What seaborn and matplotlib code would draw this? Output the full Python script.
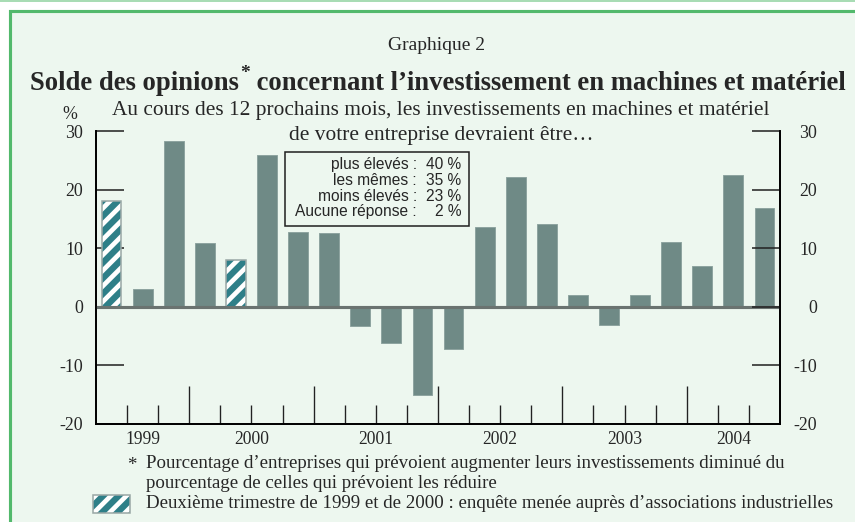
import numpy as np
import pandas as pd
import matplotlib.pyplot as plt
import matplotlib.transforms as mtransforms
from matplotlib.patches import Rectangle
from matplotlib.lines import Line2D
import seaborn as sns

# ==================== données ====================
trimestres = ["1999T2", "1999T3", "1999T4",
              "2000T1", "2000T2", "2000T3", "2000T4",
              "2001T1", "2001T2", "2001T3", "2001T4",
              "2002T1", "2002T2", "2002T3", "2002T4",
              "2003T1", "2003T2", "2003T3", "2003T4",
              "2004T1", "2004T2", "2004T3"]
soldes = [18.1, 3.0, 28.3,
          10.9, 8.0, 25.9, 12.7,
          12.6, -3.2, -6.2, -15.0,
          -7.2, 13.7, 22.2, 14.1,
          2.0, -3.1, 2.0, 11.0,
          6.9, 22.5, 16.9]
# deuxième trimestre 1999 et 2000 : enquête auprès d'associations industrielles
enquete_asso = ["1999T2", "2000T2"]

annees = ["1999", "2000", "2001", "2002", "2003", "2004"]
nb_trim = [3, 4, 4, 4, 4, 3]

reponses = ["plus élevés", "les mêmes", "moins élevés", "Aucune réponse"]
parts = [40, 35, 23, 2]

# ==================== style ====================
BG = "#edf7ef"
GREEN = "#52b96c"
BAR = "#6f8a86"
TEAL = "#2e7f88"
ZERO = "#6a7370"

sns.set_style("ticks")
plt.rcParams["font.family"] = ["Liberation Serif", "DejaVu Serif"]
plt.rcParams["axes.unicode_minus"] = False
plt.rcParams["hatch.linewidth"] = 2.4

W, H, DPI = 855, 522, 140
fx = lambda x: x / W
fy = lambda y: 1 - y / H

fig = plt.figure(figsize=(W / DPI, H / DPI), dpi=DPI, facecolor="white")

# cadre vert
fig.add_artist(Rectangle((fx(9.5), -0.2), 1.2, fy(11.5) + 0.2, transform=fig.transFigure,
                         facecolor=BG, edgecolor=GREEN, lw=1.6, zorder=-5))
fig.add_artist(Line2D([0, 1], [fy(0.6), fy(0.6)], transform=fig.transFigure,
                      color="#a6dcb2", lw=1.0, zorder=-5))

ax = fig.add_axes([fx(96), fy(424), fx(780) - fx(96), (424 - 131) / H])
ax.set_facecolor("none")

df = pd.DataFrame({"trimestre": trimestres, "solde": soldes})
sns.barplot(data=df, x="trimestre", y="solde", order=trimestres, color=BAR,
            saturation=1, width=0.64, errorbar=None, ax=ax, zorder=2)

for p in ax.patches:
    i = int(round(p.get_x() + p.get_width() / 2))
    if trimestres[i] in enquete_asso:
        p.set_facecolor(TEAL)
        p.set_edgecolor("white")
        p.set_linewidth(0)
        p.set_hatch("///")
        ax.add_patch(Rectangle((p.get_x(), p.get_y()), p.get_width(), p.get_height(),
                               fill=False, edgecolor="#9aa8a6", lw=0.8, zorder=2.5))
    else:
        p.set_edgecolor("#8ea4a0")
        p.set_linewidth(0.5)

ax.axhline(0, color=ZERO, lw=1.6, zorder=4)

ax.set_xlim(-0.5, len(trimestres) - 0.5)
ax.set_ylim(-20, 30)
ax.set_xlabel("")
ax.set_ylabel("")

# ticks x : limites d'années (longs) et trimestres (courts)
bornes = np.cumsum(nb_trim)[:-1] - 0.5
tous = np.arange(0.5, len(trimestres) - 1, 1.0)
mineurs = [t for t in tous if t not in bornes]
ax.set_xticks(bornes, labels=[""] * len(bornes))
ax.set_xticks(mineurs, minor=True)
ax.tick_params(axis="x", which="major", direction="in", length=19.5, width=0.7, color="#222222")
ax.tick_params(axis="x", which="minor", direction="in", length=9.8, width=0.7, color="#222222")

centres = np.cumsum(nb_trim) - np.array(nb_trim) / 2 - 0.5
trans = mtransforms.blended_transform_factory(ax.transData, ax.transAxes)
for nom, c in zip(annees, centres):
    ax.text(c, -20 / 293, nom, transform=trans, ha="center", va="baseline", fontsize=9)

# ticks y gauche
ax.set_yticks(range(-20, 31, 10))
ax.tick_params(axis="y", direction="in", length=14.4, width=0.8, color="#222222",
               labelsize=9.2, pad=6.7, left=True, right=False)

# ticks y droite
ax2 = ax.twinx()
ax2.set_ylim(-20, 30)
ax2.set_yticks(range(-20, 31, 10))
ax2.tick_params(axis="y", direction="in", length=14.4, width=0.8, color="#222222",
                labelsize=9.2, pad=19)
for lab in ax2.get_yticklabels():
    lab.set_horizontalalignment("right")

for a in (ax, ax2):
    a.spines["top"].set_visible(False)
    for s in ("left", "right", "bottom"):
        a.spines[s].set_color("black")
        a.spines[s].set_linewidth(0.9)

# ==================== textes ====================
fig.text(fx(437), fy(50), "Graphique 2", ha="center", va="baseline", fontsize=10)

r = fig.canvas.get_renderer()
t1 = fig.text(fx(30), fy(90), "Solde des opinions", ha="left", va="baseline",
              fontsize=13.7, fontweight="bold")
bb = t1.get_window_extent(r)
t2 = fig.text(bb.x1 / W + fx(1), fy(78), "*", ha="left", va="baseline",
              fontsize=10, fontweight="bold")
bb2 = t2.get_window_extent(r)
fig.text(bb2.x1 / W, fy(90), " concernant l\u2019investissement en machines et matériel",
         ha="left", va="baseline", fontsize=13.7, fontweight="bold")

fig.text(fx(441), fy(115),
         "Au cours des 12 prochains mois, les investissements en machines et matériel",
         ha="center", va="baseline", fontsize=11.0)
fig.text(fx(441), fy(140), "de votre entreprise devraient être\u2026",
         ha="center", va="baseline", fontsize=11.0)
fig.text(fx(70), fy(119), "%", ha="center", va="baseline", fontsize=9.2)

# encadré des réponses
fig.add_artist(Rectangle((fx(284.5), fy(225.5)), (469.5 - 284.5) / W, (225.5 - 152) / H,
                         transform=fig.transFigure, facecolor=BG, edgecolor="#222222",
                         lw=0.8, zorder=5))
for k, (rep, pc) in enumerate(zip(reponses, parts)):
    yb = fy(169.3 + 15.7 * k)
    fig.text(fx(417), yb, rep + " :", ha="right", va="baseline", fontsize=8,
             family="Liberation Sans", zorder=6)
    fig.text(fx(461), yb, f"{pc} %", ha="right", va="baseline", fontsize=8,
             family="Liberation Sans", zorder=6)

# notes
fig.text(fx(132), fy(470), "*", ha="center", va="baseline", fontsize=9.7)
fig.text(fx(146), fy(468),
         "Pourcentage d\u2019entreprises qui prévoient augmenter leurs investissements diminué du",
         ha="left", va="baseline", fontsize=9.7)
fig.text(fx(146), fy(488.5), "pourcentage de celles qui prévoient les réduire",
         ha="left", va="baseline", fontsize=9.7)
fig.add_artist(Rectangle((fx(93), fy(512.7)), (130 - 93) / W, (512.7 - 494.7) / H,
                         transform=fig.transFigure, facecolor=TEAL, edgecolor="white",
                         lw=0, hatch="///"))
fig.add_artist(Rectangle((fx(93), fy(512.7)), (130 - 93) / W, (512.7 - 494.7) / H,
                         transform=fig.transFigure, fill=False, edgecolor="#9aa8a6", lw=0.8))
fig.text(fx(146), fy(508),
         "Deuxième trimestre de 1999 et de 2000 : enquête menée auprès d\u2019associations industrielles",
         ha="left", va="baseline", fontsize=9.7)

fig.savefig("out.png", dpi=DPI, facecolor=fig.get_facecolor())
